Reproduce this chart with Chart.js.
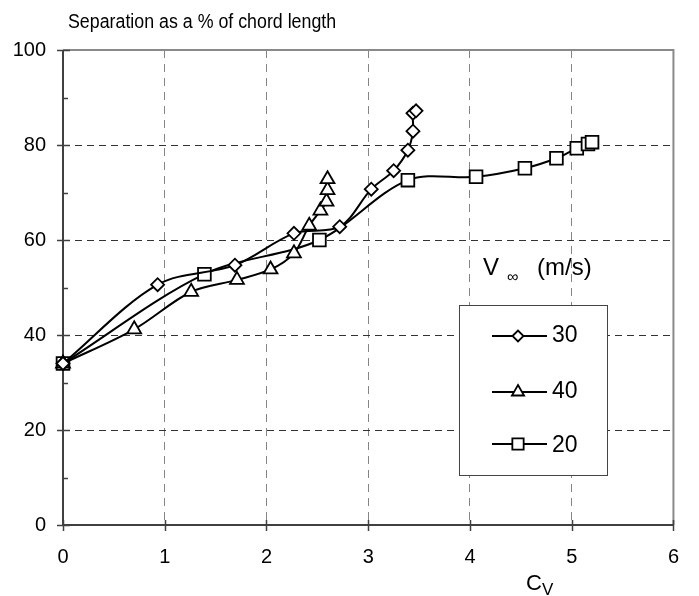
<!DOCTYPE html>
<html><head><meta charset="utf-8">
<script src="https://cdn.jsdelivr.net/npm/chart.js@4/dist/chart.umd.min.js"></script>
<style>html,body{margin:0;padding:0;background:#fff}#wrap{width:699px;height:596px;position:relative}</style>
</head><body><div id="wrap"><canvas id="c" width="699" height="596"></canvas></div>
<script>
// ---- data ----
const seriesNames = ['30', '40', '20'];
const x30 = [0, 0.93, 1.69, 2.27, 2.72, 3.03, 3.25, 3.39, 3.44, 3.44, 3.47];
const y30 = [34, 50.6, 54.7, 61.4, 62.8, 70.7, 74.6, 78.9, 82.9, 86.7, 87.2];
const x40 = [0, 0.70, 1.26, 1.71, 2.04, 2.27, 2.42, 2.53, 2.59, 2.60, 2.60];
const y40 = [34, 41.2, 49.1, 51.6, 53.8, 57.2, 63.0, 66.2, 68.1, 70.5, 72.8];
const x20 = [0, 1.39, 2.52, 3.39, 4.06, 4.54, 4.85, 5.05, 5.16, 5.20];
const y20 = [34, 52.8, 60.0, 72.6, 73.3, 75.1, 77.2, 79.3, 80.2, 80.6];
const xTicks = [0, 1, 2, 3, 4, 5, 6];
const yTicks = [0, 20, 40, 60, 80, 100];
const yMinorTicks = [10, 30, 50, 70, 90];
const titleText = 'Separation as a % of chord length';
const xLabelMain = 'C';
const xLabelSub = 'V';
const legendHead = ['V', '\u221E', '(m/s)'];

const FONT = '"Liberation Sans", Arial, sans-serif';
const pts = (xs, ys) => xs.map((v, i) => ({x: v, y: ys[i]}));
const styles = ['rectRot', 'triangle', 'rect'];
const radii = [6.5, 8, 9];

const datasets = [[x30, y30], [x40, y40], [x20, y20]].map((d, i) => ({
  label: seriesNames[i],
  data: pts(d[0], d[1]),
  showLine: true,
  clip: false,
  borderColor: '#000',
  borderWidth: 2,
  tension: 0.33,
  pointStyle: styles[i],
  pointRadius: radii[i],
  pointHoverRadius: radii[i],
  pointBackgroundColor: '#fff',
  pointBorderColor: '#000',
  pointBorderWidth: 1.8
}));

function line(ctx, x1, y1, x2, y2) { ctx.beginPath(); ctx.moveTo(x1, y1); ctx.lineTo(x2, y2); ctx.stroke(); }

const deco = {
  id: 'deco',
  beforeDatasetsDraw(chart) {
    const {ctx, chartArea: a} = chart;
    const sx = chart.scales.x, sy = chart.scales.y;
    ctx.save();
    ctx.setLineDash([]);
    ctx.strokeStyle = '#8a8a8a'; ctx.lineWidth = 2;
    ctx.beginPath(); ctx.moveTo(a.left, a.top); ctx.lineTo(a.right, a.top); ctx.lineTo(a.right, a.bottom); ctx.stroke();
    ctx.strokeStyle = '#404040'; ctx.lineWidth = 2;
    ctx.beginPath(); ctx.moveTo(a.left, a.top); ctx.lineTo(a.left, a.bottom); ctx.lineTo(a.right, a.bottom); ctx.stroke();
    ctx.lineWidth = 1.5;
    yTicks.forEach(v => { const p = Math.round(sy.getPixelForValue(v)) + 0.5; line(ctx, a.left - 6, p, a.left + 7, p); });
    yMinorTicks.forEach(v => { const p = Math.round(sy.getPixelForValue(v)) + 0.5; line(ctx, a.left, p, a.left + 5, p); });
    xTicks.forEach(v => { const p = Math.round(sx.getPixelForValue(v)) + 0.5; line(ctx, p, a.bottom - 5, p, a.bottom + 6); });
    ctx.restore();
  },
  afterDraw(chart) {
    const ctx = chart.ctx;
    ctx.save();
    ctx.fillStyle = '#000';
    ctx.textBaseline = 'alphabetic';
    ctx.textAlign = 'left';
    // title (slightly condensed like the original)
    ctx.save();
    ctx.translate(68, 28);
    ctx.scale(0.89, 1);
    ctx.font = '20px ' + FONT;
    ctx.fillText(titleText, 0, 0);
    ctx.restore();
    // x axis label
    ctx.font = '22px ' + FONT;
    ctx.fillText(xLabelMain, 526, 590);
    ctx.font = '17px ' + FONT;
    ctx.fillText(xLabelSub, 542, 595);
    // legend heading
    ctx.font = '24px ' + FONT;
    ctx.fillText(legendHead[0], 483, 275);
    ctx.font = '16px ' + FONT;
    ctx.fillText(legendHead[1], 507, 282);
    ctx.font = '24px ' + FONT;
    ctx.fillText(legendHead[2], 537, 275);
    // legend box
    ctx.fillStyle = '#fff';
    ctx.fillRect(459.5, 305.5, 148, 170);
    ctx.strokeStyle = '#444'; ctx.lineWidth = 1; ctx.setLineDash([]);
    ctx.strokeRect(459.5, 305.5, 148, 170);
    const rowY = [336, 392, 444];
    const textY = [342, 398, 452];
    for (let i = 0; i < 3; i++) {
      ctx.strokeStyle = '#000'; ctx.lineWidth = 2;
      line(ctx, 492, rowY[i], 547, rowY[i]);
      ctx.fillStyle = '#fff'; ctx.lineWidth = 1.8;
      Chart.helpers.drawPoint(ctx, {pointStyle: styles[i], radius: radii[i] - 1, rotation: 0, borderWidth: 1.8}, 518, rowY[i]);
      ctx.fillStyle = '#000';
      ctx.font = '23px ' + FONT;
      ctx.fillText(seriesNames[i], 552, textY[i]);
    }
    ctx.restore();
  }
};

new Chart(document.getElementById('c'), {
  type: 'scatter',
  data: {datasets},
  options: {
    responsive: false,
    animation: false,
    events: [],
    layout: {padding: {top: 50, right: 19, left: 0, bottom: 0}},
    plugins: {legend: {display: false}, title: {display: false}, tooltip: {enabled: false}},
    scales: {
      x: {
        type: 'linear', min: 0, max: 6,
        afterFit(s) { s.height = 71; },
        afterBuildTicks(s) { s.ticks = xTicks.map(v => ({value: v})); },
        ticks: {color: '#000', font: {family: FONT, size: 20}, padding: 20, maxRotation: 0},
        grid: {color: '#858585', lineWidth: 1, drawTicks: false},
        border: {display: false, dash: [8, 6]}
      },
      y: {
        type: 'linear', min: 0, max: 100,
        afterFit(s) { s.width = 63; },
        afterBuildTicks(s) { s.ticks = yTicks.map(v => ({value: v})); },
        ticks: {color: '#000', font: {family: FONT, size: 20}, padding: 17},
        grid: {color: '#333', lineWidth: 1, drawTicks: false},
        border: {display: false, dash: [7, 5]}
      }
    }
  },
  plugins: [deco]
});
</script>
</body></html>
